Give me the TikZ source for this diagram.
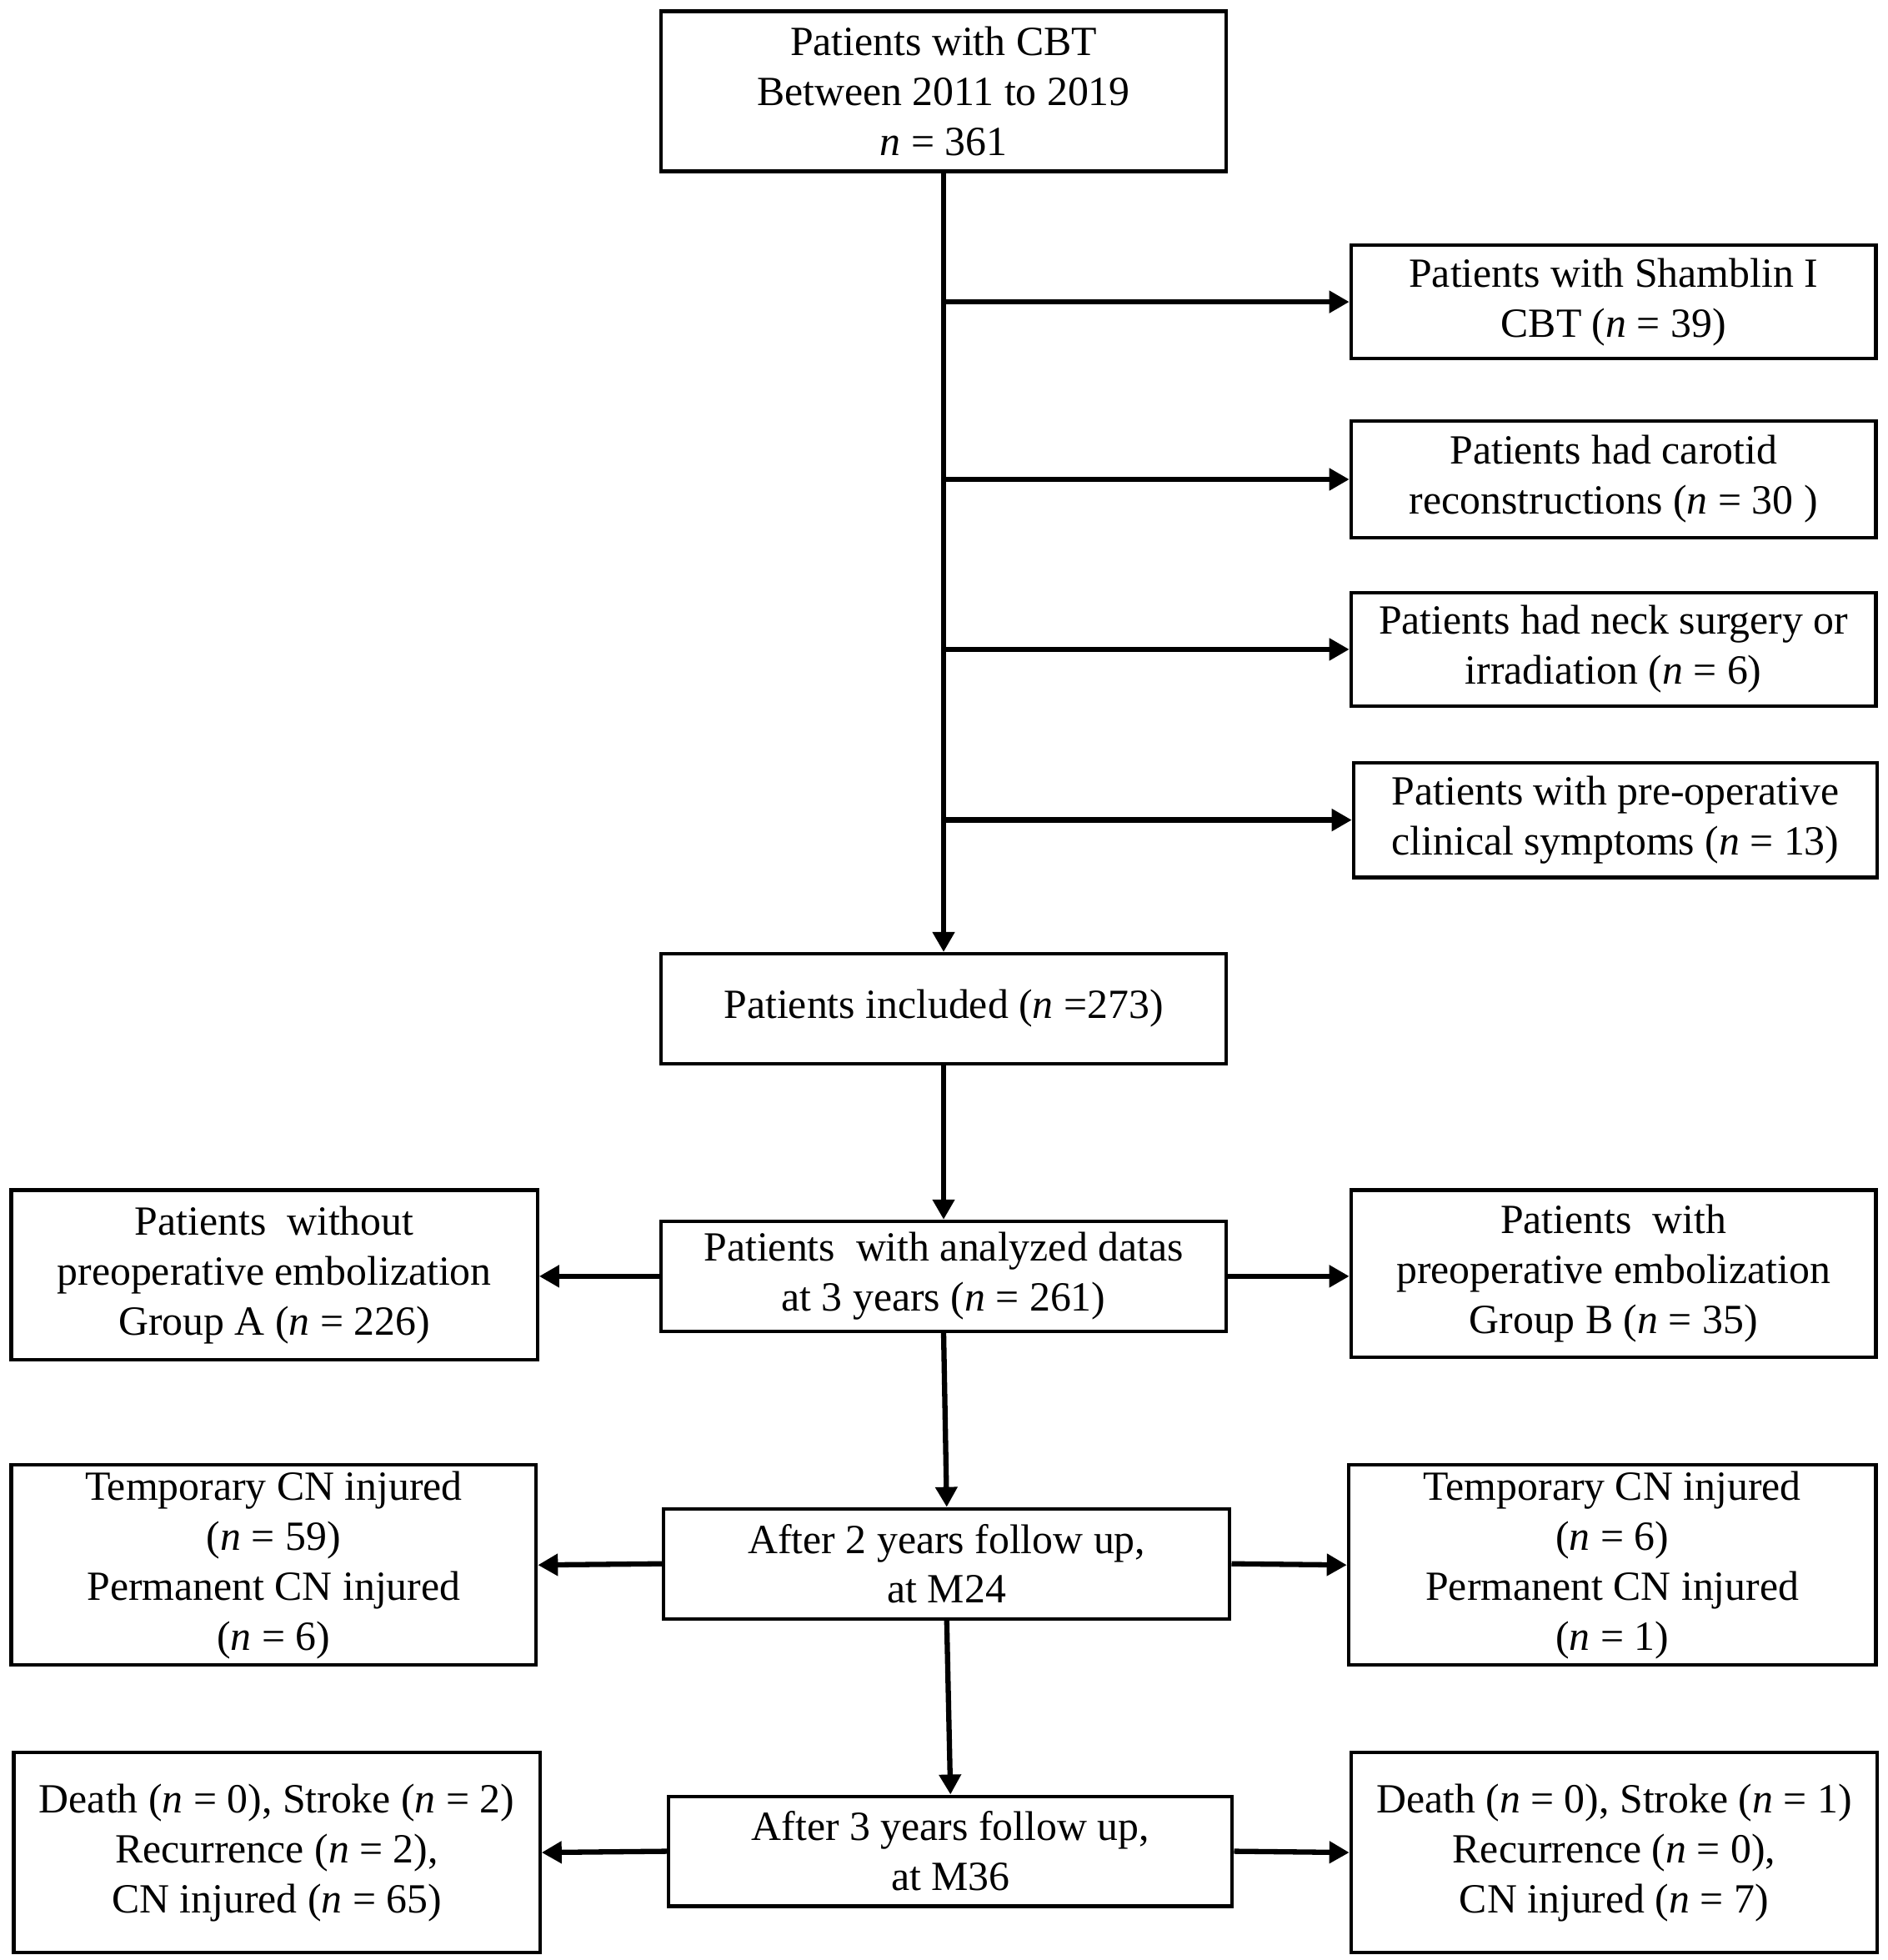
\documentclass[tikz,border=0pt]{standalone}
\usepackage{fontspec}
\setmainfont{Liberation Serif}
\usetikzlibrary{arrows.meta}
\begin{document}
\begin{tikzpicture}[x=0.5pt,y=-0.5pt,
  box/.style={draw=black, line width=1.4pt, align=center, inner sep=0pt,
    font=\fontsize{16.6}{20}\selectfont},
  arr/.style={line width=2.1pt, -{Triangle[length=8pt,width=8.5pt]}}]
\path[use as bounding box, fill=white] (0,0) rectangle (1510,1568);
\newcommand{\nn}{\textit{n}}
\node[box, minimum width=226pt, minimum height=64pt] (top) at (755,73)
  {Patients with CBT\\Between 2011 to 2019\\\nn{} = 361};
\node[box, minimum width=210pt, minimum height=45.5pt] (sham) at (1291,241.5)
  {Patients with Shamblin I\\CBT (\nn{} = 39)};
\node[box, minimum width=210pt, minimum height=46.5pt] (car) at (1291,383.5)
  {Patients had carotid\\reconstructions (\nn{} = 30 )};
\node[box, minimum width=210pt, minimum height=45.5pt] (neck) at (1291,519.5)
  {Patients had neck surgery or\\irradiation (\nn{} = 6)};
\node[box, minimum width=209.5pt, minimum height=46pt] (symp) at (1292.5,656)
  {Patients with pre-operative\\clinical symptoms (\nn{} = 13)};
\node[box, minimum width=226pt, minimum height=44pt] (incl) at (755,807)
  {Patients included (\nn{} =273)};
\node[box, minimum width=226pt, minimum height=44pt] (anal) at (755,1021)
  {Patients\ \ with analyzed datas\\at 3 years (\nn{} = 261)};
\node[box, minimum width=210.5pt, minimum height=68pt] (grpA) at (219.5,1020)
  {Patients\ \ without\\preoperative embolization\\Group A (\nn{} = 226)};
\node[box, minimum width=210pt, minimum height=67pt] (grpB) at (1291,1019)
  {Patients\ \ with\\preoperative embolization\\Group B (\nn{} = 35)};
\node[box, minimum width=226.5pt, minimum height=44pt] (m24) at (757.5,1251)
  {After 2 years follow up,\\at M24};
\node[box, minimum width=210pt, minimum height=80pt] (cnA) at (219,1252)
  {Temporary CN injured\\(\nn{} = 59)\\Permanent CN injured\\(\nn{} = 6)};
\node[box, minimum width=211pt, minimum height=80pt] (cnB) at (1290,1252)
  {Temporary CN injured\\(\nn{} = 6)\\Permanent CN injured\\(\nn{} = 1)};
\node[box, minimum width=225.5pt, minimum height=44pt] (m36) at (760.5,1481)
  {After 3 years follow up,\\at M36};
\node[box, minimum width=210.5pt, minimum height=80pt] (dA) at (221.5,1482)
  {Death (\nn{} = 0), Stroke (\nn{} = 2)\\Recurrence (\nn{} = 2),\\CN injured (\nn{} = 65)};
\node[box, minimum width=210.5pt, minimum height=80pt] (dB) at (1291.5,1482)
  {Death (\nn{} = 0), Stroke (\nn{} = 1)\\Recurrence (\nn{} = 0),\\CN injured (\nn{} = 7)};
% trunk and exclusions
\draw[arr] (top.south) -- (incl.north);
\draw[arr] (top.south |- sham.west) -- (sham.west);
\draw[arr] (top.south |- car.west) -- (car.west);
\draw[arr] (top.south |- neck.west) -- (neck.west);
\draw[arr] (top.south |- symp.west) -- (symp.west);
\draw[arr] (incl.south) -- (anal.north);
\draw[arr] (anal.west) -- (anal.west -| grpA.east);
\draw[arr] (anal.east) -- (anal.east -| grpB.west);
\draw[arr] (anal.south) -- (m24.north);
\draw[arr] (m24.west) -- (cnA.east);
\draw[arr] (m24.east) -- (cnB.west);
\draw[arr] (m24.south) -- (m36.north);
\draw[arr] (m36.west) -- (dA.east);
\draw[arr] (m36.east) -- (dB.west);
\end{tikzpicture}
\end{document}
